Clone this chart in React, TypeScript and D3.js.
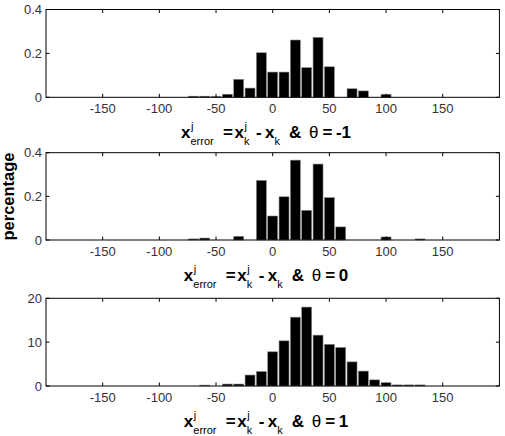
import { useEffect, useRef } from 'react';
import * as d3 from 'd3';

// histogram bins (centres of the 10-wide bins)
const binCenters = [-70, -60, -50, -40, -30, -20, -10, 0, 10, 20, 30, 40, 50, 60, 70, 80, 90, 100, 110, 120, 130];

const thetaMinus1 = [0.005, 0.005, 0.004, 0.014, 0.082, 0.042, 0.203, 0.115, 0.115, 0.261, 0.135, 0.273, 0.139, 0, 0.039, 0.029, 0, 0.014, 0, 0, 0];
const thetaZero = [0.005, 0.009, 0, 0, 0.017, 0, 0.273, 0.11, 0.198, 0.366, 0.136, 0.348, 0.194, 0.06, 0, 0, 0, 0.014, 0, 0, 0.005];
const thetaOne = [0, 0.2, 0, 0.45, 0.45, 2.5, 3.3, 7.8, 10.3, 15.7, 18.0, 11.6, 9.5, 8.8, 5.5, 3.4, 1.4, 0.75, 0.25, 0.25, 0.25];

const xTicks = [-150, -100, -50, 0, 50, 100, 150];
const yTicksSmall = [0, 0.2, 0.4];
const yTicksLarge = [0, 10, 20];
const thetaLabels = ['-1', '0', '1'];

const W = 505;
const H = 436;

export default function App() {
  const ref = useRef<SVGSVGElement | null>(null);

  useEffect(() => {
    const svg = d3.select(ref.current);
    svg.selectAll('*').remove();

    const x = d3.scaleLinear().domain([-200, 200]).range([46, 499.4]);
    const binW = 8.8;
    const font = 'Liberation Sans, Arial, sans-serif';

    const panels = [
      { values: thetaMinus1, ticks: yTicksSmall, top: 9.5, bottom: 97.3, theta: thetaLabels[0], fmt: d3.format('.1f') },
      { values: thetaZero, ticks: yTicksSmall, top: 152.7, bottom: 240, theta: thetaLabels[1], fmt: d3.format('.1f') },
      { values: thetaOne, ticks: yTicksLarge, top: 298.3, bottom: 386, theta: thetaLabels[2], fmt: d3.format('d') },
    ];

    panels.forEach(p => {
      const ymax = p.ticks[p.ticks.length - 1];
      const y = d3.scaleLinear().domain([0, ymax]).range([p.bottom, p.top]);
      const g = svg.append('g');

      g.selectAll('rect.bar')
        .data(binCenters.map((c, i) => ({ c, v: p.values[i] })).filter(d => d.v > 0))
        .enter()
        .append('rect')
        .attr('class', 'bar')
        .attr('x', d => x(d.c - binW / 2))
        .attr('width', d => x(d.c + binW / 2) - x(d.c - binW / 2))
        .attr('y', d => y(d.v))
        .attr('height', d => y(0) - y(d.v))
        .attr('fill', '#000')
        .attr('stroke', '#8a8a8a')
        .attr('stroke-width', 0.6);

      // axes box
      g.append('rect')
        .attr('x', x(-200))
        .attr('y', p.top)
        .attr('width', x(200) - x(-200))
        .attr('height', p.bottom - p.top)
        .attr('fill', 'none')
        .attr('stroke', '#000')
        .attr('stroke-width', 1);

      const tl = 3.5;
      xTicks.forEach(t => {
        g.append('line').attr('x1', x(t)).attr('x2', x(t)).attr('y1', p.bottom).attr('y2', p.bottom - tl).attr('stroke', '#000');
        g.append('line').attr('x1', x(t)).attr('x2', x(t)).attr('y1', p.top).attr('y2', p.top + tl).attr('stroke', '#000');
        g.append('text')
          .attr('x', x(t))
          .attr('y', p.bottom + 16)
          .attr('text-anchor', 'middle')
          .attr('font-family', font)
          .attr('font-size', 13)
          .attr('fill', '#333')
          .text(String(t));
      });

      p.ticks.forEach(t => {
        g.append('line').attr('x1', x(-200)).attr('x2', x(-200) + tl).attr('y1', y(t)).attr('y2', y(t)).attr('stroke', '#000');
        g.append('line').attr('x1', x(200)).attr('x2', x(200) - tl).attr('y1', y(t)).attr('y2', y(t)).attr('stroke', '#000');
        g.append('text')
          .attr('x', x(-200) - 4)
          .attr('y', y(t))
          .attr('dy', '0.35em')
          .attr('text-anchor', 'end')
          .attr('font-family', font)
          .attr('font-size', 13)
          .attr('fill', '#333')
          .text(t === 0 ? '0' : p.fmt(t));
      });

      // x label: x^j_error = x^j_k - x_k  &  θ = n, each piece placed on its own
      const lg = g.append('g').attr('font-family', font).attr('fill', '#000');
      const piece = (s: string, px: number, dy: number, size: number, bold: boolean) =>
        lg.append('text')
          .attr('x', px)
          .attr('y', dy)
          .attr('font-size', size)
          .attr('font-weight', bold ? 'bold' : 'normal')
          .text(s);
      piece('x', 0, 0, 17, true);
      piece('j', 10, -8, 11, false);
      piece('error', 9.5, 7, 11, false);
      piece('=', 42, 0, 17, true);
      piece('x', 53.5, 0, 17, true);
      piece('j', 63.5, -8, 11, false);
      piece('k', 63, 7, 11, false);
      piece('-', 75, 0, 17, true);
      piece('x', 84, 0, 17, true);
      piece('k', 93.5, 7, 11, false);
      piece('&', 108, 0, 17, true);
      piece('\u03b8', 128, 0, 17, false);
      piece('=', 141.5, 0, 17, true);
      piece(p.theta, 155, 0, 17, true);

      const node = lg.node() as SVGGElement;
      const bb = node.getBBox();
      const cx = 266;
      lg.attr('transform', `translate(${cx - (bb.x + bb.width / 2)},${p.bottom + 40.5})`);
    });

    svg.append('text')
      .attr('transform', 'translate(14,196.5) rotate(-90)')
      .attr('text-anchor', 'middle')
      .attr('font-family', font)
      .attr('font-size', 16.5)
      .attr('font-weight', 'bold')
      .attr('fill', '#000')
      .text('percentage');
  }, []);

  return (
    <div style={{ position: 'absolute', left: 0, top: 0, background: '#fff' }}>
      <svg ref={ref} width={W} height={H} viewBox={`0 0 ${W} ${H}`} />
    </div>
  );
}
